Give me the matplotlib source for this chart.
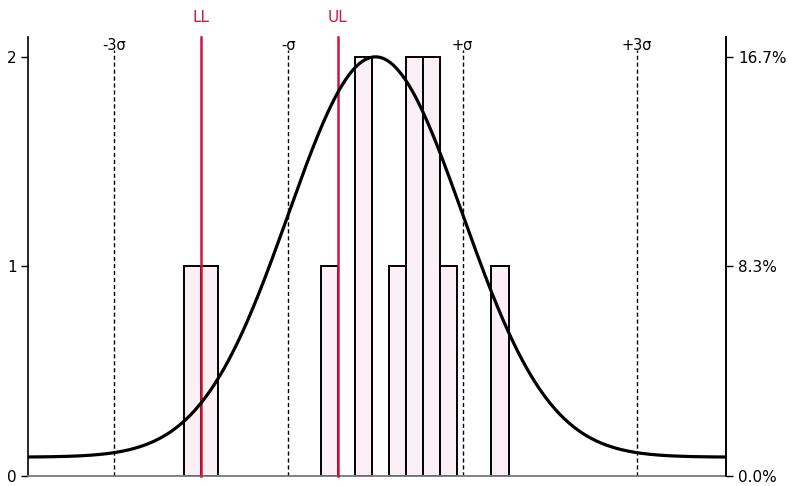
import numpy as np
import matplotlib
matplotlib.use("Agg")
import matplotlib.pyplot as plt

# ---- data (x in bin units) ----
BIN_START = 0.0
BIN_WIDTH = 1.0
COUNTS = [1, 1, 0, 0, 0, 0, 0, 0, 1, 0, 2, 0, 1, 2, 2, 1, 0, 0, 1]
N_TOTAL = 12

MEAN = 11.2
SIGMA = 5.11
CURVE_PEAK = 1.91      # amplitude of the fitted curve
CURVE_BASE = 0.09      # curve does not drop to zero at the edges

LL = 1.0
UL = 9.0

SIGMA_MULTS = [-3, -1, 1, 3]
SIGMA_LABELS = ["-3σ", "-σ", "+σ", "+3σ"]

Y_TICKS = [0, 1, 2]
X_LIM = (-9.16, 31.73)
Y_LIM = (0, 2.095)

RED = "#d0143c"
BAR_FILL = "#fbf0f6"

fig = plt.figure(figsize=(7.92, 4.86), dpi=100)
ax = fig.add_axes([0.0354, 0.0206, 0.881, 0.9034])

# histogram bars
edges = BIN_START + BIN_WIDTH * np.arange(len(COUNTS))
for x0, c in zip(edges, COUNTS):
    if c > 0:
        ax.bar(x0, c, width=BIN_WIDTH, align="edge", color=BAR_FILL,
               edgecolor="black", linewidth=1.4, zorder=2)

# fitted curve
xs = np.linspace(X_LIM[0], X_LIM[1], 600)
ys = CURVE_BASE + CURVE_PEAK * np.exp(-0.5 * ((xs - MEAN) / SIGMA) ** 2)
ax.plot(xs, ys, color="black", lw=2.3, zorder=4)

# sigma lines
for m, lab in zip(SIGMA_MULTS, SIGMA_LABELS):
    xv = MEAN + m * SIGMA
    ax.plot([xv, xv], [0, 2.035], ls=(0, (3, 2)), color="black", lw=1.0, zorder=1)
    ax.text(xv, 2.055, lab, ha="center", va="center", fontsize=10.5, zorder=5)

# spec limits
for xv, lab in [(LL, "LL"), (UL, "UL")]:
    ax.plot([xv, xv], [0, Y_LIM[1]], color=RED, lw=1.8, zorder=3, clip_on=False)
    ax.text(xv, 2.19, lab, ha="center", va="center", color=RED, fontsize=11)

ax.set_xlim(*X_LIM)
ax.set_ylim(*Y_LIM)
ax.set_xticks([])
ax.set_yticks(Y_TICKS)
ax.set_yticklabels([str(v) for v in Y_TICKS], fontsize=11)
ax.tick_params(axis="y", length=5, width=1, pad=3)
ax.spines["top"].set_visible(False)
ax.spines["bottom"].set_color("#777777")
ax.spines["bottom"].set_linewidth(1.3)
ax.spines["left"].set_linewidth(1.2)
ax.spines["right"].set_linewidth(1.2)

ax2 = ax.twinx()
ax2.set_ylim(*Y_LIM)
ax2.set_yticks(Y_TICKS)
ax2.set_yticklabels([f"{v / N_TOTAL * 100:.1f}%" for v in Y_TICKS], fontsize=11)
ax2.tick_params(axis="y", length=5, width=1, pad=4)
for s in ["top", "bottom", "left"]:
    ax2.spines[s].set_visible(False)
ax2.spines["right"].set_linewidth(1.2)

fig.savefig("out.png", dpi=100)
